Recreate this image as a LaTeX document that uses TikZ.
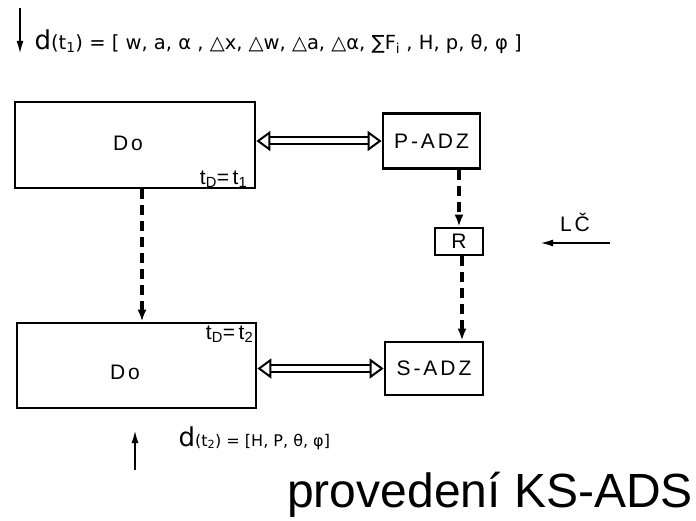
\documentclass[tikz,border=0pt]{standalone}
\usepackage{fontspec}
\setmainfont{Liberation Sans}
\newfontfamily\draftfont[LetterSpace=14]{Liberation Sans}
\newfontfamily\formfont{DejaVu Sans}
\usepackage{tikz}
\usetikzlibrary{arrows.meta,positioning}
\newcommand{\bigd}{{\fontsize{26}{26}\selectfont d}}

\begin{document}
\begin{tikzpicture}[
  x=1pt, y=1pt,
  box/.style={rectangle, draw, line width=2.8pt, inner sep=0pt},
  lbl/.style={font=\draftfont\fontsize{21}{23}\selectfont, inner sep=1pt},
  flow/.style={-{Latex[length=12pt,width=9pt]}, line width=3.4pt, dash pattern=on 10pt off 6pt},
  link/.style={{Triangle[open,length=14pt,width=20pt]}-{Triangle[open,length=14pt,width=20pt]},
    double, double distance=5pt, line width=2pt},
  feed/.style={-{Latex[length=13pt,width=7pt]}, line width=2pt},
]
  \useasboundingbox (0,0) rectangle (696,-521);

  \node[box, minimum width=240pt, minimum height=86pt] (do1)  at (135,-145) {};
  \node[box, minimum width=239pt, minimum height=85pt] (do2)  at (136.5,-365.5) {};
  \node[box, lbl, minimum width=97pt, minimum height=55pt]  (padz) at (431.5,-141) {P-ADZ};
  \node[box, lbl, minimum width=48pt, minimum height=27pt]  (r)    at (459,-241.5) {R};
  \node[box, lbl, minimum width=98pt, minimum height=53pt]  (sadz) at (434,-368.5) {S-ADZ};

  \node[lbl] (do1txt) at (128,-143) {Do};
  \node[lbl] (do2txt) at (125,-372) {Do};
  \node[lbl, above left=1pt and 8pt of do1.south east] (td1) {t\textsubscript{D}=\,t\textsubscript{1}};
  \node[lbl, below left=3pt and 3pt of do2.north east] (td2) {t\textsubscript{D}=\,t\textsubscript{2}};

  \draw[link] (do1.east |- padz.west) -- (padz.west);
  \draw[link] (do2.east |- sadz.west) -- (sadz.west);

  \draw[flow] ([xshift=7pt]do1.south) -- ([xshift=7pt]do1.south |- do2.north);
  \draw[flow] (r.north |- padz.south) -- (r.north);
  \draw[flow] ([xshift=3pt]r.south) -- ([xshift=3pt]r.south |- sadz.north);

  \coordinate (lcfrom) at (610,-243);
  \coordinate (lcto)   at (540,-243);
  \draw[feed] (lcfrom) -- (lcto);
  \node[lbl, above=10pt of lcfrom, xshift=-35pt] (lc) {LČ};

  \coordinate (inA) at (20,-8);
  \coordinate (inB) at (20,-54);
  \draw[feed] (inA) -- (inB);
  \node[anchor=west, font=\formfont\fontsize{19.5}{21}\selectfont] (dt1) at (31,-42)
    {\bigd(t\textsubscript{1}) = [ w, a, α , △x, △w, △a, △α, ∑F\textsubscript{i} , H, p, θ, φ ]};

  \coordinate (outA) at (135,-470);
  \coordinate (outB) at (135,-430);
  \draw[feed] (outA) -- (outB);
  \node[anchor=west, font=\formfont\fontsize{16}{18}\selectfont] (dt2) at (175,-438)
    {\bigd (t\textsubscript{2}) = [H, P, θ, φ]};

  \node[anchor=base east, font=\fontsize{48}{50}\selectfont, inner sep=0pt] (title) at (693,-507)
    {provedení KS-ADS};
\end{tikzpicture}
\end{document}
